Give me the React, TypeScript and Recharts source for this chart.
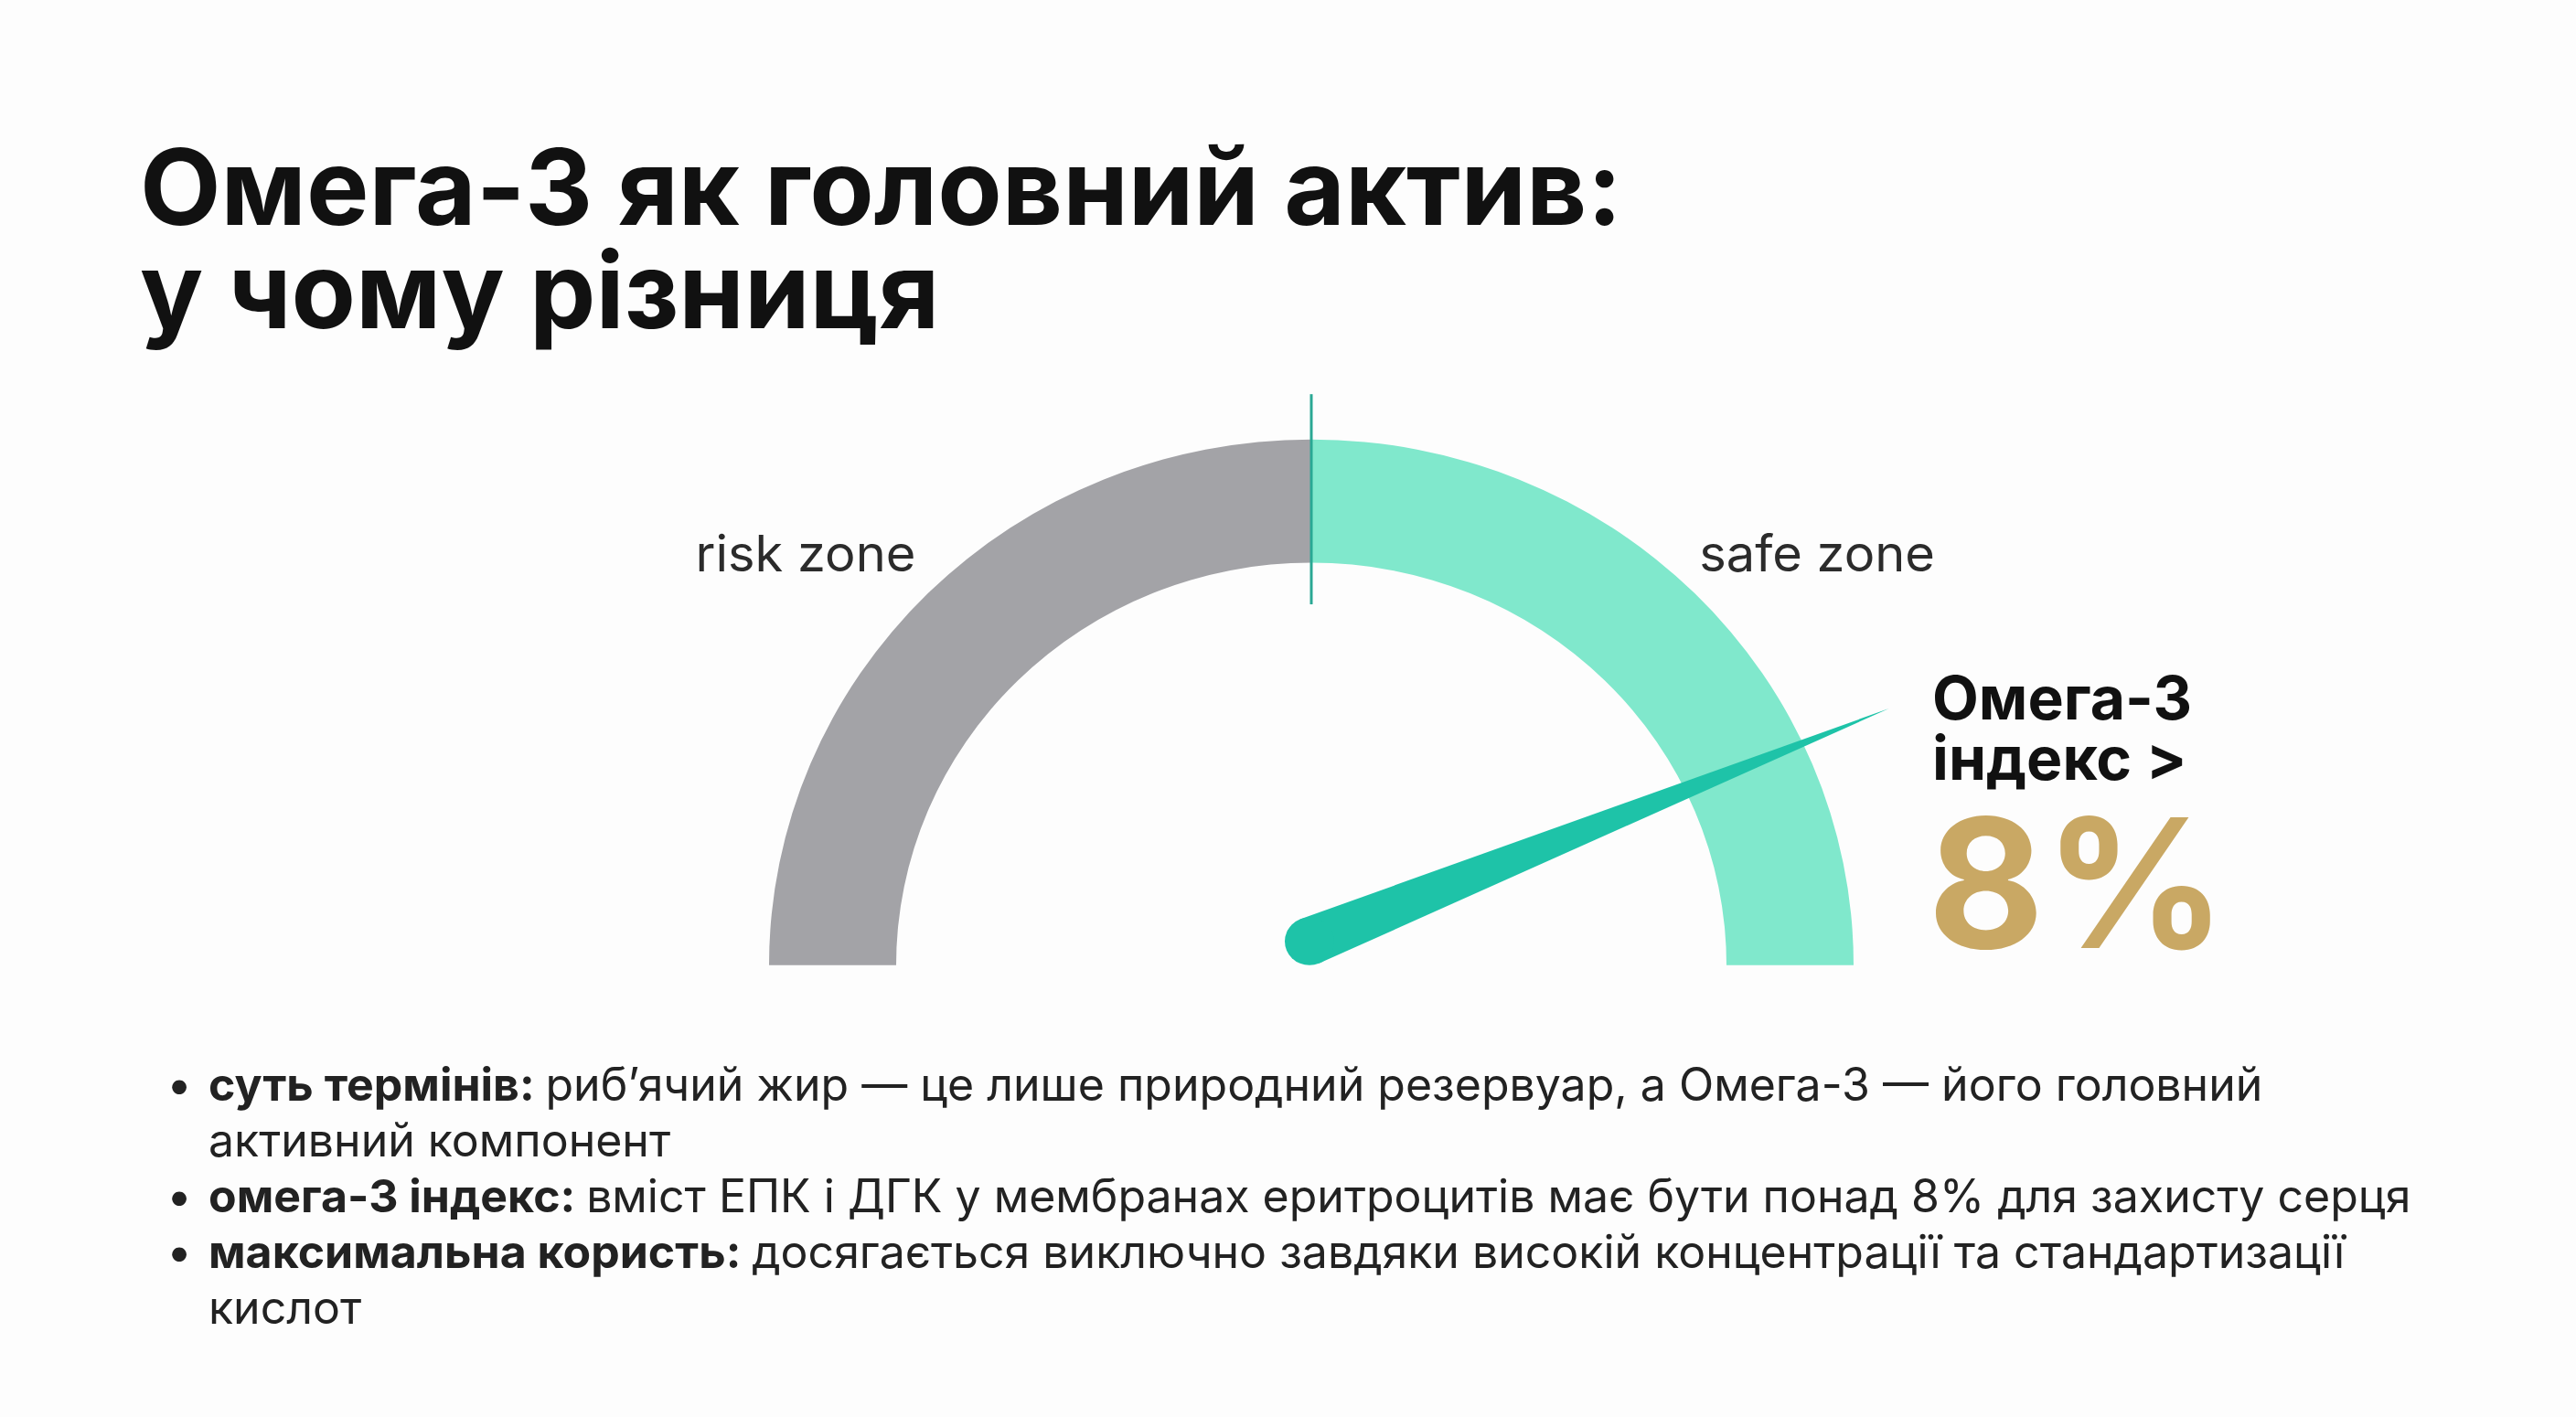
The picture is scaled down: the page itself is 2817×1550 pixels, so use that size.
import React from "react"
import { PieChart, Pie, Cell } from "recharts"

// gauge scale, omega-3 index in %
const scaleMin = 0
const scaleMax = 16
const zoneNames = ["risk zone", "safe zone"]
const zoneValues = [8, 8]
const zoneColors = ["#a3a3a7", "#80e8cc"]
const needleValue = 14

const titleLines = ["Омега-3 як головний актив:", "у чому різниця"]
const calloutLines = ["Омега-3", "індекс >"]
const calloutValue = "8%"

const bulletTitles = ["суть термінів:", "омега-3 індекс:", "максимальна користь:"]
const bulletTexts = [
  ["риб’ячий жир — це лише природний резервуар, а Омега-3 — його головний", "активний компонент"],
  ["вміст ЕПК і ДГК у мембранах еритроцитів має бути понад 8% для захисту серця"],
  ["досягається виключно завдяки високій концентрації та стандартизації", "кислот"],
]

const FONT = "Inter, 'Open Sans', sans-serif"
const RAD = Math.PI / 180

const zoneData = zoneNames.map((name, i) => ({ name, value: zoneValues[i] }))
const needleData = [
  { name: "needle", value: needleValue - scaleMin },
  { name: "rest", value: scaleMax - needleValue },
]

function polar(cx: number, cy: number, r: number, angle: number) {
  return { x: cx + r * Math.cos(angle * RAD), y: cy - r * Math.sin(angle * RAD) }
}

function renderZoneLabel(props: any) {
  const { cx, cy, innerRadius, outerRadius, midAngle, endAngle, index, name } = props
  const p = polar(cx, cy, outerRadius + 129, midAngle + (index === 0 ? 5 : -5))
  let divider = null
  if (index === 0) {
    const a = polar(cx, cy, outerRadius + 51, endAngle)
    const b = polar(cx, cy, innerRadius - 47, endAngle)
    divider = <line x1={a.x} y1={a.y} x2={b.x} y2={b.y} stroke="#2aa894" strokeWidth={3} />
  }
  return (
    <g>
      {divider}
      <text
        x={p.x}
        y={p.y}
        textAnchor="middle"
        dominantBaseline="central"
        fontFamily={FONT}
        fontSize={56}
        fill="#2b2b2b"
      >
        {name}
      </text>
    </g>
  )
}

function renderNeedle(props: any) {
  const { cx, cy, endAngle, outerRadius, index } = props
  if (index !== 0) return null
  // pivot sits a little above the gauge baseline
  const px = cx - 2
  const py = cy - 27
  const dx = Math.cos(endAngle * RAD)
  const dy = -Math.sin(endAngle * RAD)
  const w = 27
  const tipX = px + dx * outerRadius
  const tipY = py + dy * outerRadius
  const nx = -dy
  const ny = dx
  const d = `M${px + nx * w},${py + ny * w} L${tipX},${tipY} L${px - nx * w},${py - ny * w} Z`
  return (
    <g>
      <path d={d} fill="#1ec3a8" />
      <circle cx={px} cy={py} r={w} fill="#1ec3a8" />
    </g>
  )
}

export default function App() {
  return (
    <div
      style={{
        position: "absolute",
        left: 0,
        top: 0,
        width: 2817,
        height: 1550,
        background: "#fdfdfd",
        overflow: "hidden",
      }}
    >
      {/* the slide's gauge is a touch flatter than a circle */}
      <div
        style={{
          position: "absolute",
          left: 684,
          top: 300,
          transform: "scaleY(0.97)",
          transformOrigin: "0 751px",
        }}
      >
        <PieChart width={1500} height={800}>
          <Pie
            data={zoneData}
            dataKey="value"
            nameKey="name"
            cx={745}
            cy={751}
            startAngle={180}
            endAngle={0}
            innerRadius={454}
            outerRadius={593}
            stroke="none"
            label={renderZoneLabel}
            labelLine={false}
            isAnimationActive={false}
          >
            {zoneData.map((d, i) => (
              <Cell key={d.name} fill={zoneColors[i]} />
            ))}
          </Pie>
          <Pie
            data={needleData}
            dataKey="value"
            cx={745}
            cy={751}
            startAngle={180}
            endAngle={0}
            innerRadius={0}
            outerRadius={686}
            stroke="none"
            fill="none"
            label={renderNeedle}
            labelLine={false}
            isAnimationActive={false}
          >
            {needleData.map((d) => (
              <Cell key={d.name} fill="none" />
            ))}
          </Pie>
        </PieChart>
      </div>

      <svg
        width={2817}
        height={1550}
        style={{ position: "absolute", left: 0, top: 0, pointerEvents: "none" }}
      >
        <text x={153} y={246} fontFamily={FONT} fontWeight={700} fontSize={115} fill="#111">
          {titleLines.map((t, i) => (
            <tspan key={t} x={153} dy={i === 0 ? 0 : 113}>
              {t}
            </tspan>
          ))}
        </text>

        <text x={2113} y={787} fontFamily={FONT} fontWeight={700} fontSize={66} fill="#111">
          {calloutLines.map((t, i) => (
            <tspan key={t} x={2113} dy={i === 0 ? 0 : 66}>
              {t}
            </tspan>
          ))}
        </text>
        <text x={2108} y={1037} fontFamily={FONT} fontWeight={700} fontSize={196} fill="#c9a864">
          {calloutValue}
        </text>

        {(() => {
          const rows: React.ReactNode[] = []
          let line = 0
          bulletTitles.forEach((title, b) => {
            bulletTexts[b].forEach((txt, j) => {
              const y = 1204 + line * 61
              rows.push(
                <g key={`${b}-${j}`}>
                  {j === 0 && (
                    <text x={182} y={y} fontFamily={FONT} fontSize={50} fill="#222">
                      •
                    </text>
                  )}
                  <text x={228} y={y} fontFamily={FONT} fontSize={50} fill="#222">
                    {j === 0 && <tspan fontWeight={700}>{title} </tspan>}
                    <tspan>{txt}</tspan>
                  </text>
                </g>
              )
              line++
            })
          })
          return rows
        })()}
      </svg>
    </div>
  )
}
